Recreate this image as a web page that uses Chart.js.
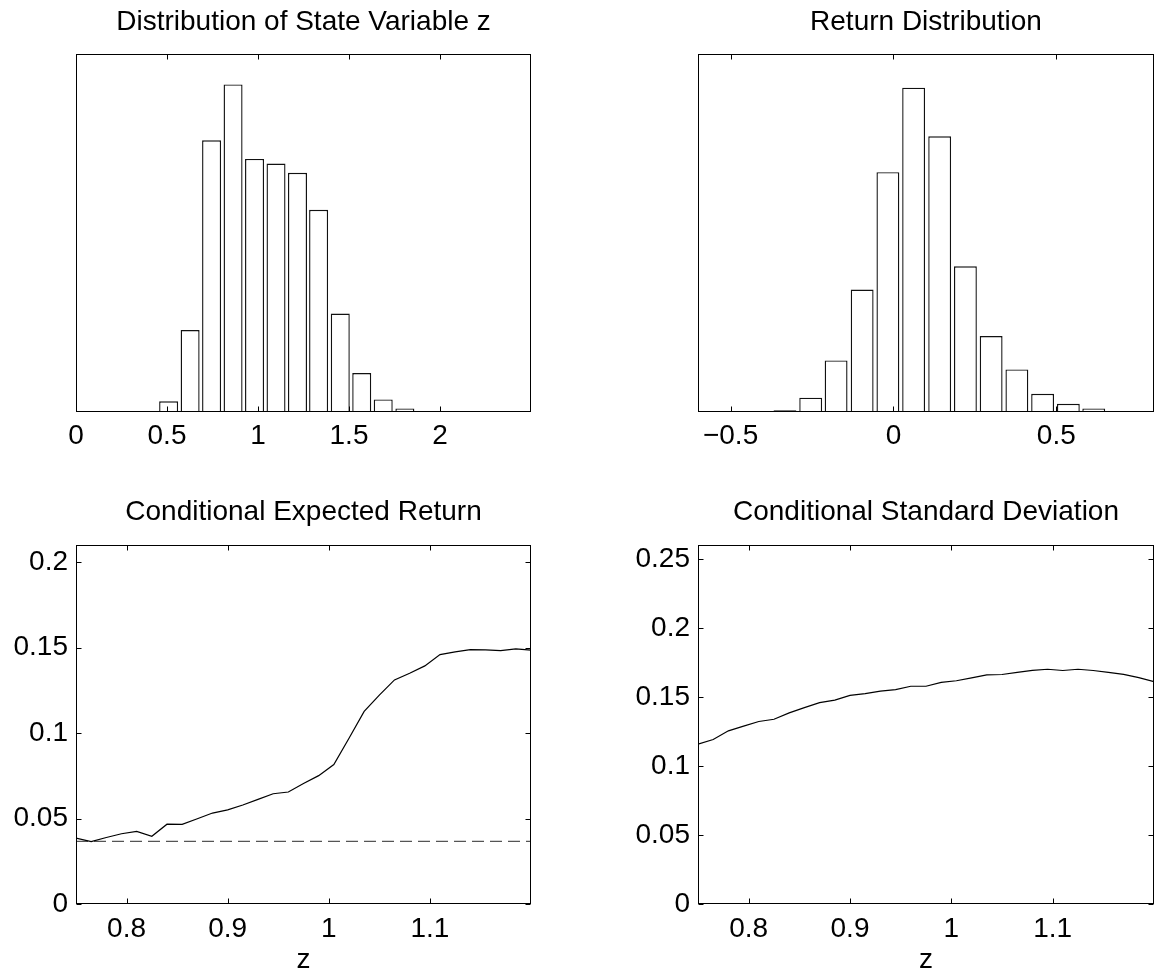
<!DOCTYPE html>
<html>
<head>
<meta charset="utf-8">
<title>State variable z</title>
<script src="https://cdn.jsdelivr.net/npm/chart.js"></script>
<style>
  body { margin: 0; background: #fff; }
  #wrap { position: relative; width: 1157px; height: 976px; }
  canvas { position: absolute; }
</style>
</head>
<body>
<div id="wrap">
  <canvas id="chartZ" width="578" height="488" style="left:0;top:0"></canvas>
  <canvas id="chartRet" width="579" height="488" style="left:578px;top:0"></canvas>
  <canvas id="chartExp" width="578" height="488" style="left:0;top:488px"></canvas>
  <canvas id="chartStd" width="579" height="488" style="left:578px;top:488px"></canvas>
</div>
<script>
// histogram of z: bin centres and counts
var zBins = [0.509, 0.627, 0.745, 0.863, 0.981, 1.099, 1.217, 1.333, 1.452, 1.570, 1.688, 1.807, 1.923];
var zCounts = [30, 229, 759, 915, 707, 694, 668, 565, 275, 109, 35, 10, 2];

// histogram of returns
var retBins = [-0.333, -0.254, -0.176, -0.096, -0.017, 0.062, 0.142, 0.221, 0.300, 0.379, 0.458, 0.537, 0.615, 0.694];
var retCounts = [5, 40, 144, 342, 670, 906, 770, 407, 212, 119, 51, 23, 10, 3];

// conditional moments on a grid of z
var zGrid = [0.750, 0.765, 0.780, 0.795, 0.810, 0.825, 0.840, 0.855, 0.870, 0.885, 0.900,
             0.915, 0.930, 0.945, 0.960, 0.975, 0.990, 1.005, 1.020, 1.035, 1.050,
             1.065, 1.080, 1.095, 1.110, 1.125, 1.140, 1.155, 1.170, 1.185, 1.200];
var expReturn = [0.0386, 0.0365, 0.0389, 0.0411, 0.0425, 0.0396, 0.0467, 0.0466, 0.0499, 0.0532, 0.0551,
                 0.0579, 0.0612, 0.0645, 0.0655, 0.0705, 0.0751, 0.0816, 0.0970, 0.1127, 0.1222,
                 0.1311, 0.1350, 0.1393, 0.1459, 0.1475, 0.1488, 0.1486, 0.1482, 0.1492, 0.1485];
var condStd = [0.1157, 0.1191, 0.1254, 0.1288, 0.1322, 0.1338, 0.1384, 0.1422, 0.1458, 0.1477, 0.1511,
               0.1523, 0.1542, 0.1552, 0.1577, 0.1577, 0.1605, 0.1617, 0.1638, 0.1660, 0.1662,
               0.1678, 0.1692, 0.1700, 0.1691, 0.1700, 0.1691, 0.1678, 0.1663, 0.1640, 0.1611];
var unconditionalMean = 0.0366;

// tick labels
var zHistTicks = [0, 0.5, 1, 1.5, 2];
var retHistTicks = [-0.5, 0, 0.5];
var zTicks = [0.8, 0.9, 1, 1.1];
var expTicks = [0, 0.05, 0.1, 0.15, 0.2];
var stdTicks = [0, 0.05, 0.1, 0.15, 0.2, 0.25];

Chart.defaults.font.family = '"Liberation Sans", Arial, Helvetica, sans-serif';
Chart.defaults.font.size = 28;
Chart.defaults.color = '#000';

// matlab style box with inward ticks
var boxTicks = {
    id: 'boxTicks',
    afterDraw: function (chart, args, opts) {
        var ctx = chart.ctx;
        var a = chart.chartArea;
        var L = Math.round(a.left) + 0.5, R = Math.round(a.right) - 0.5;
        var T = Math.round(a.top) + 0.5, B = Math.round(a.bottom) - 0.5;
        var len = 5;
        ctx.save();
        ctx.strokeStyle = '#000';
        ctx.lineWidth = 1;
        ctx.beginPath();
        chart.scales.x.ticks.forEach(function (t) {
            var px = Math.round(chart.scales.x.getPixelForValue(t.value)) + 0.5;
            ctx.moveTo(px, B); ctx.lineTo(px, B - len);
            ctx.moveTo(px, T); ctx.lineTo(px, T + len);
        });
        if (opts.yTicks) {
            chart.scales.y.ticks.forEach(function (t) {
                var py = Math.round(chart.scales.y.getPixelForValue(t.value)) + 0.5;
                ctx.moveTo(L, py); ctx.lineTo(L + len, py);
                ctx.moveTo(R, py); ctx.lineTo(R - len, py);
            });
        }
        ctx.stroke();
        ctx.strokeRect(L, T, R - L, B - T);
        ctx.restore();
    }
};

function fmt(v) {
    return String(v).replace('-', '\u2212');
}

function fixedTicks(list) {
    return function (scale) {
        scale.ticks = list.map(function (v) { return { value: v }; });
    };
}

function histChart(id, title, bins, counts, xmin, xmax, ticks, padLeft, padRight) {
    var ctx = document.getElementById(id).getContext('2d');
    return new Chart(ctx, {
        type: 'bar',
        data: {
            datasets: [{
                data: bins.map(function (b, i) { return { x: b, y: counts[i] }; }),
                backgroundColor: '#fff',
                borderColor: '#111',
                borderWidth: 1.4,
                barPercentage: 0.9,
                categoryPercentage: 1.0
            }]
        },
        options: {
            responsive: false,
            animation: false,
            layout: { padding: { left: padLeft, right: padRight, top: 0, bottom: 0 } },
            plugins: {
                legend: { display: false },
                tooltip: { enabled: false },
                title: { display: true, text: title, fullSize: false, font: { size: 28, weight: 'normal' }, padding: { top: 5, bottom: 15.4 } },
                boxTicks: { yTicks: false }
            },
            scales: {
                x: {
                    type: 'linear', min: xmin, max: xmax, offset: false,
                    grid: { display: false, drawTicks: false }, border: { display: false },
                    afterBuildTicks: fixedTicks(ticks),
                    afterFit: function (s) { s.height = 76; },
                    ticks: { padding: 7, maxRotation: 0, callback: fmt }
                },
                y: { display: false, min: 0, max: 1000 }
            }
        },
        plugins: [boxTicks]
    });
}

function lineChart(id, title, series, extra, ymax, yTicks, yWidth, padRight) {
    var ctx = document.getElementById(id).getContext('2d');
    var datasets = [{
        data: zGrid.map(function (z, i) { return { x: z, y: series[i] }; }),
        borderColor: '#000',
        borderWidth: 1.2,
        pointRadius: 0,
        tension: 0,
        fill: false
    }];
    if (extra) datasets.push(extra);
    return new Chart(ctx, {
        type: 'line',
        data: { datasets: datasets },
        options: {
            responsive: false,
            animation: false,
            layout: { padding: { left: 0, right: padRight, top: 0, bottom: 0 } },
            plugins: {
                legend: { display: false },
                tooltip: { enabled: false },
                title: { display: true, text: title, fullSize: false, font: { size: 28, weight: 'normal' }, padding: { top: 7.2, bottom: 16.2 } },
                boxTicks: { yTicks: true }
            },
            scales: {
                x: {
                    type: 'linear', min: 0.75, max: 1.2,
                    grid: { display: false, drawTicks: false }, border: { display: false },
                    afterBuildTicks: fixedTicks(zTicks),
                    afterFit: function (s) { s.height = 72; },
                    ticks: { padding: 8, maxRotation: 0, callback: fmt },
                    title: { display: true, text: 'z', font: { size: 28 }, padding: { top: 0, bottom: -1 } }
                },
                y: {
                    min: 0, max: ymax,
                    grid: { display: false, drawTicks: false }, border: { display: false },
                    afterBuildTicks: fixedTicks(yTicks),
                    afterFit: function (s) { s.width = yWidth; },
                    ticks: { padding: 8, callback: fmt }
                }
            }
        },
        plugins: [boxTicks]
    });
}

histChart('chartZ', 'Distribution of State Variable z', zBins, zCounts, 0, 2.5, zHistTicks, 76, 47);
histChart('chartRet', 'Return Distribution', retBins, retCounts, -0.6, 0.8, retHistTicks, 120, 3);

lineChart('chartExp', 'Conditional Expected Return', expReturn, {
    data: [{ x: 0.75, y: unconditionalMean }, { x: 1.2, y: unconditionalMean }],
    borderColor: '#555',
    borderWidth: 1.2,
    borderDash: [12, 6],
    pointRadius: 0,
    fill: false
}, 0.21, expTicks, 76, 47);
lineChart('chartStd', 'Conditional Standard Deviation', condStd, null, 0.26, stdTicks, 120, 3);
</script>
</body>
</html>
